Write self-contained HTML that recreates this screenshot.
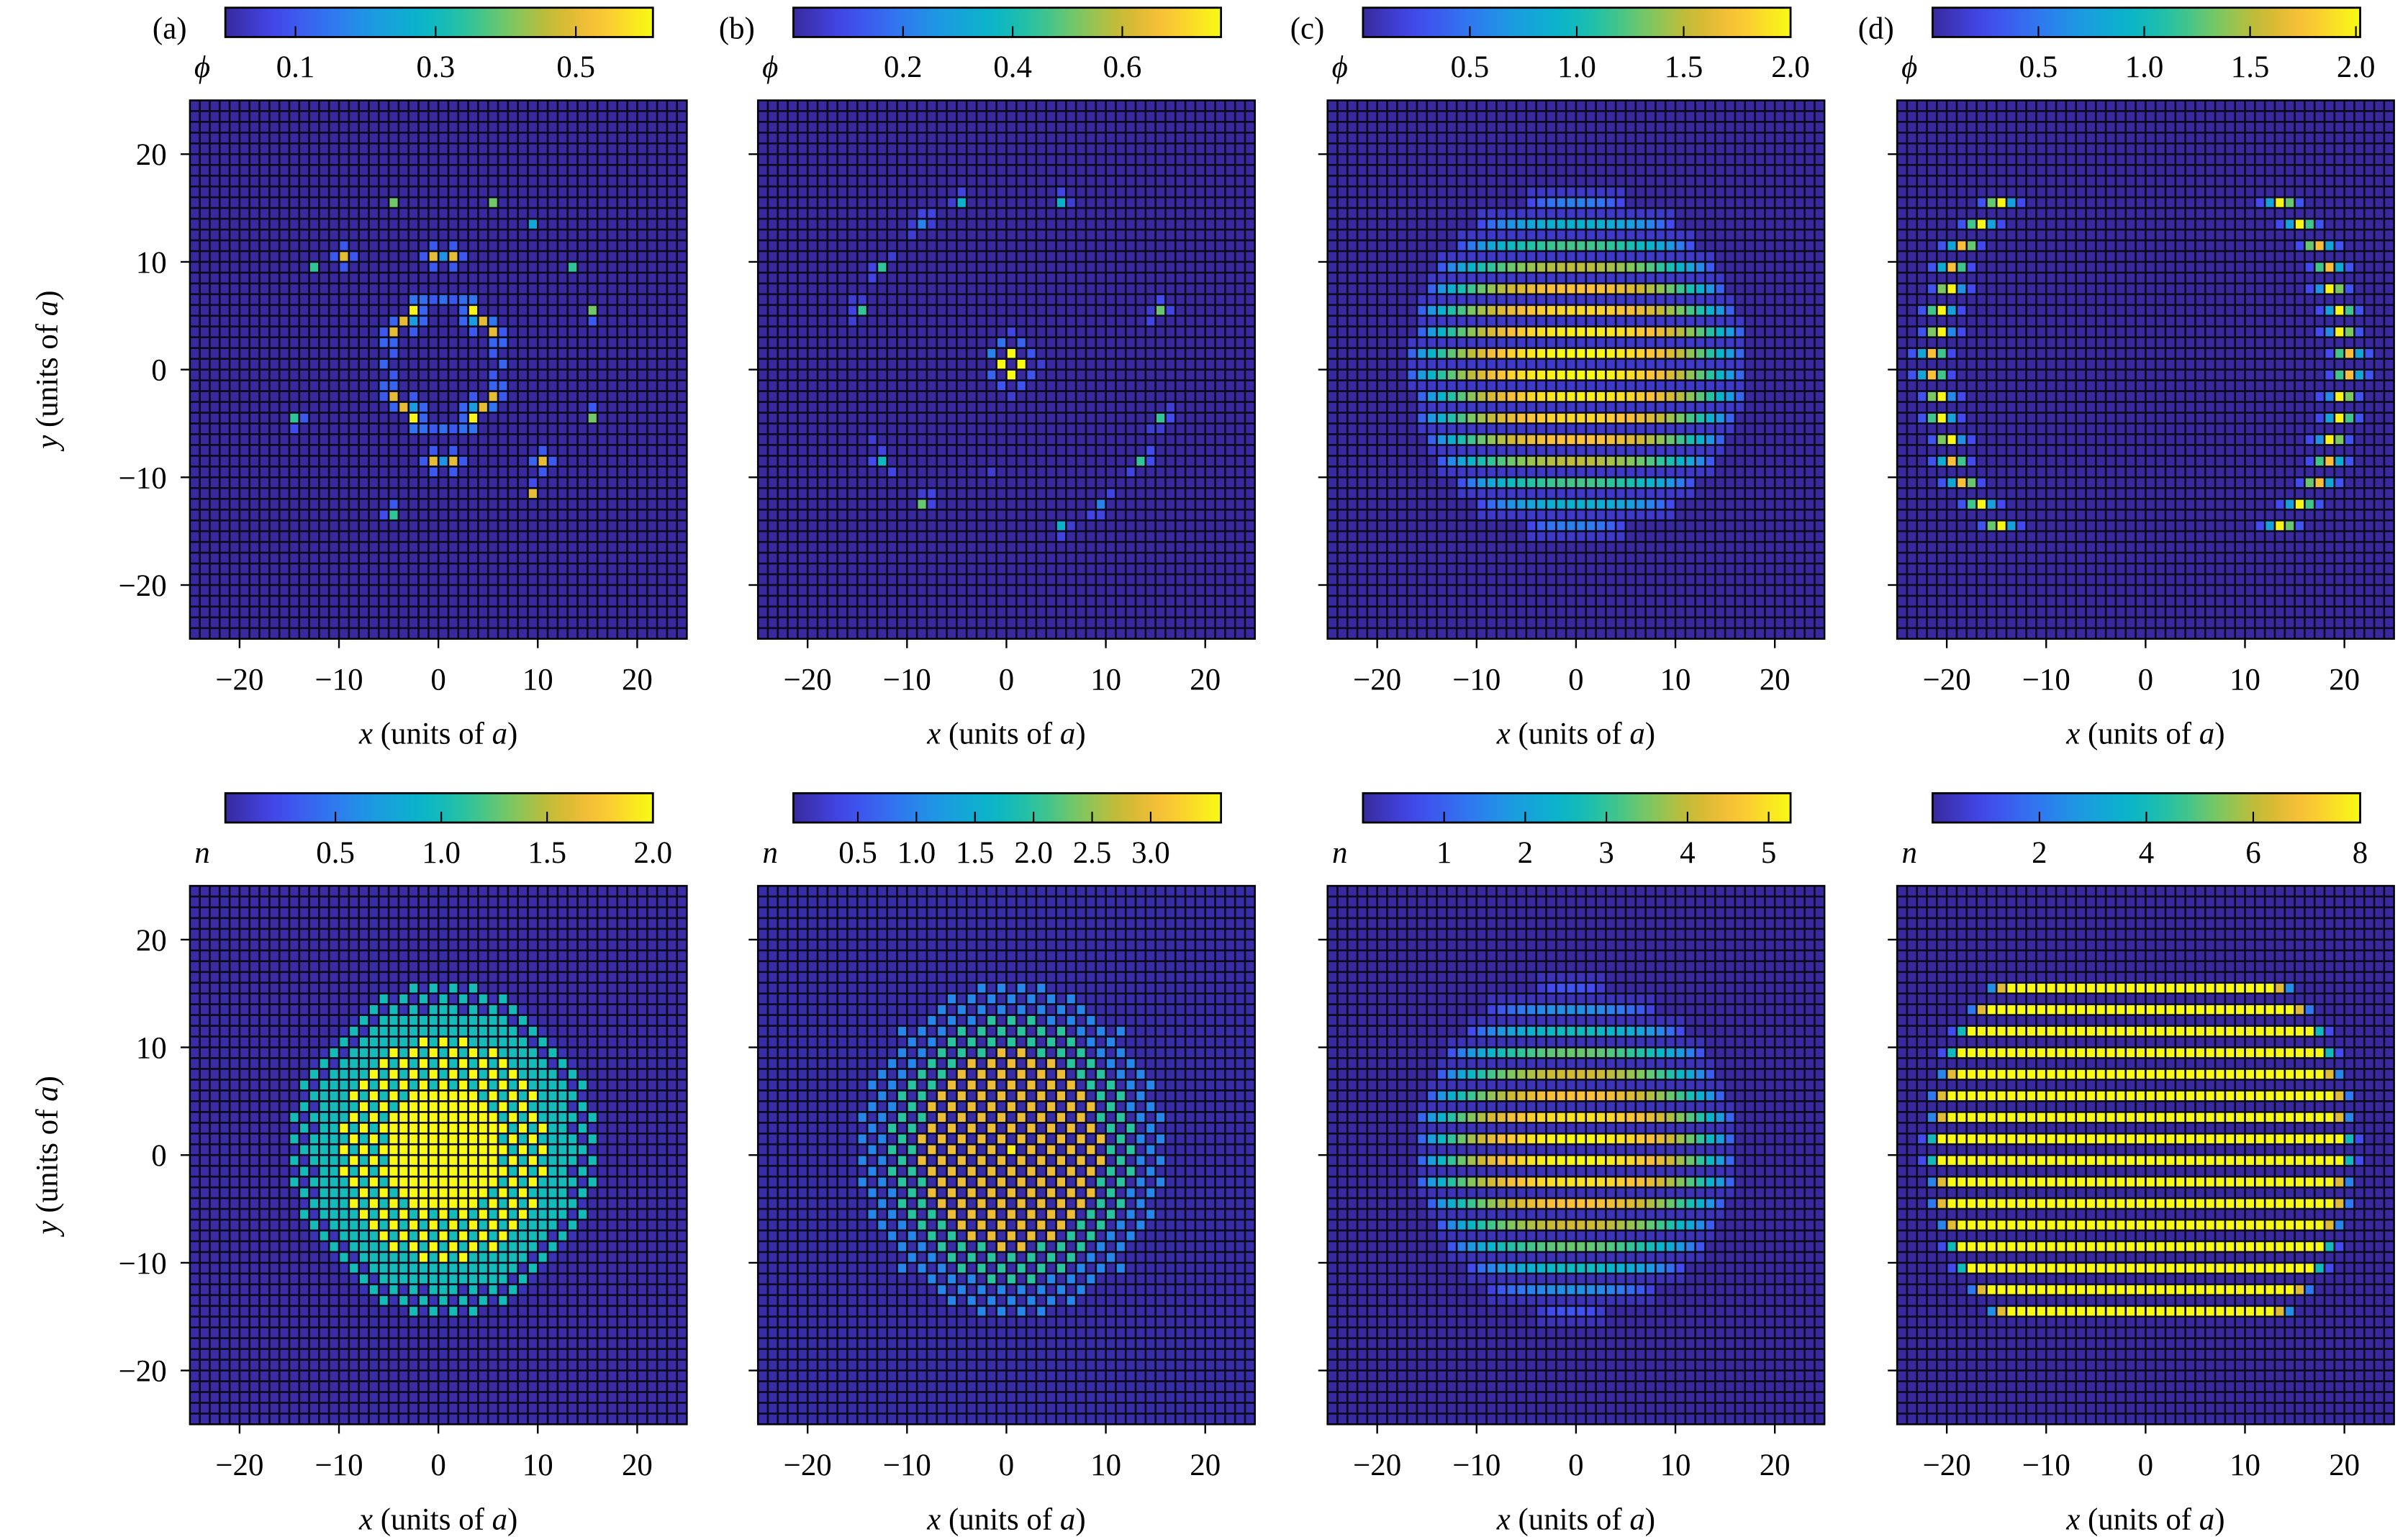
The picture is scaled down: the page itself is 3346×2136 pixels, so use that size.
<!DOCTYPE html>
<html><head><meta charset="utf-8"><style>
html,body{margin:0;padding:0;background:#fff;}
svg{display:block;}
text{font-family:"Liberation Serif",serif;fill:#000;}
</style></head><body>
<svg id="fig" xmlns="http://www.w3.org/2000/svg" width="3346" height="2136" viewBox="0 0 1560 996" preserveAspectRatio="none"></svg>
<script>
// ---------- data ----------
const panelLetters = ['(a)','(b)','(c)','(d)'];
const xTickVals = [-20,-10,0,10,20];
const yTickVals = [20,10,0,-10,-20];
const cbMin = [[0,0,0,0],[-0.02,-0.05,0,0]];
const cbMax = [[0.61,0.78,2.0,2.02],[2.0,3.6,5.27,8.0]];
const cbTicks = [[[0.1,0.3,0.5],[0.2,0.4,0.6],[0.5,1.0,1.5,2.0],[0.5,1.0,1.5,2.0]],
                 [[0.5,1.0,1.5,2.0],[0.5,1.0,1.5,2.0,2.5,3.0],[1,2,3,4,5],[2,4,6,8]]];
const cbTickLabels = [[['0.1','0.3','0.5'],['0.2','0.4','0.6'],['0.5','1.0','1.5','2.0'],['0.5','1.0','1.5','2.0']],
                 [['0.5','1.0','1.5','2.0'],['0.5','1.0','1.5','2.0','2.5','3.0'],['1','2','3','4','5'],['2','4','6','8']]];
const cbSymbol = ['\u03D5','n'];

// phi (a): [col,row,value]
const phiA = [[20,9,0.4],[30,9,0.4],[34,11,0.25],[15,14,0.5],[24,14,0.5],[25,14,0.2],[26,14,0.5],
 [15,13,0.1],[15,15,0.1],[24,13,0.1],[26,13,0.1],[24,15,0.1],[26,15,0.1],[14,14,0.1],[16,14,0.1],[23,14,0.1],[27,14,0.1],
 [12,15,0.35],[38,15,0.35],
 [22,18,0.15],[23,18,0.14],[24,18,0.1],[25,18,0.14],[26,18,0.1],[27,18,0.14],[28,18,0.15],
 [22,19,0.6],[23,19,0.12],[27,19,0.12],[28,19,0.6],[40,19,0.4],
 [20,20,0.12],[21,20,0.5],[22,20,0.22],[23,20,0.12],[27,20,0.12],[28,20,0.22],[29,20,0.5],[30,20,0.15],[40,20,0.1],
 [19,21,0.1],[20,21,0.5],[22,21,0.1],[28,21,0.1],[30,21,0.5],[31,21,0.1],
 [19,22,0.12],[20,22,0.12],[30,22,0.12],[31,22,0.12],[20,23,0.1],[30,23,0.1],[19,24,0.12],[31,24,0.12],
 [20,25,0.1],[30,25,0.1],[19,26,0.12],[20,26,0.12],[30,26,0.12],[31,26,0.12],
 [19,27,0.1],[20,27,0.5],[22,27,0.1],[28,27,0.1],[30,27,0.5],[31,27,0.1],
 [20,28,0.12],[21,28,0.5],[22,28,0.22],[23,28,0.12],[27,28,0.12],[28,28,0.22],[29,28,0.5],[30,28,0.15],[40,28,0.1],
 [22,29,0.6],[23,29,0.12],[27,29,0.12],[28,29,0.6],[10,29,0.35],[11,29,0.1],[40,29,0.4],
 [22,30,0.15],[23,30,0.14],[24,30,0.1],[25,30,0.14],[26,30,0.1],[27,30,0.14],[28,30,0.15],[10,30,0.08],
 [24,32,0.1],[26,32,0.1],[35,32,0.1],[23,33,0.1],[24,33,0.5],[25,33,0.2],[26,33,0.5],[27,33,0.1],[34,33,0.12],[35,33,0.5],[36,33,0.1],
 [24,34,0.1],[26,34,0.1],[35,34,0.1],[34,35,0.08],[34,36,0.5],[20,37,0.1],[19,38,0.08],[20,38,0.35]];

// phi (b)
const phiB = [[20,8,0.08],[20,9,0.35],[19,9,0.06],[30,8,0.08],[30,9,0.35],[31,9,0.06],
 [16,10,0.08],[17,10,0.08],[16,11,0.22],[15,11,0.06],[17,11,0.06],[15,12,0.06],
 [13,14,0.06],[11,15,0.08],[12,15,0.45],[11,16,0.08],
 [9,18,0.06],[10,18,0.06],[9,19,0.08],[10,19,0.45],[9,20,0.06],
 [40,18,0.1],[40,19,0.5],[41,19,0.08],[39,20,0.08],[39,19,0.06],
 [25,21,0.08],[24,22,0.18],[26,22,0.15],[23,23,0.22],[25,23,0.78],[27,23,0.12],[24,24,0.78],[26,24,0.78],[28,24,0.06],
 [23,25,0.15],[25,25,0.78],[27,25,0.12],[24,26,0.12],[26,26,0.12],[25,27,0.06],
 [41,28,0.06],[40,29,0.45],[41,29,0.1],[40,30,0.06],[39,30,0.06],
 [11,31,0.06],[12,32,0.08],[11,33,0.1],[12,33,0.38],[13,34,0.08],[23,34,0.06],
 [39,32,0.1],[38,33,0.45],[39,33,0.1],[37,34,0.08],
 [16,36,0.06],[17,36,0.08],[16,37,0.5],[17,37,0.08],
 [35,36,0.08],[34,37,0.22],[33,38,0.08],[34,38,0.08],[30,39,0.35],[31,39,0.06],[30,40,0.08]];

// phi (c): stripes
const phiCRows = [9,11,13,15,17,19,21,23,25,27,29,31,33,35,37,39];
const phiCLo   = [20,15,13,11,10,9,9,8,8,9,9,10,11,13,15,20];
const phiCHi   = [29,34,36,38,39,40,41,41,41,41,40,39,38,36,34,29];
const phiCPeak = [0.55,0.9,1.2,1.5,1.75,1.85,1.95,2.0,2.0,1.95,1.85,1.75,1.5,1.2,0.9,0.55];

// phi (d): two arcs
const phiDRows     = [9,11,13,15,17,19,21,23,25,27,29,31,33,35,37,39];
const phiDLeftCol  = [10,8,6,5,5,4,4,3,3,4,4,5,5,6,8,10];
const phiDRightCol = [38,40,42,43,43,44,44,45,45,44,44,43,43,42,40,38];
const phiDPeak     = [2.0,2.0,1.75,1.75,2.0,2.0,2.0,1.75,1.75,2.0,2.0,2.0,1.75,1.75,2.0,2.0];
const phiDOuter    = [1.3,1.2,0.8,0.85,1.35,1.2,1.35,0.8,0.8,1.35,1.2,1.35,0.85,0.8,1.2,1.3];
const phiDInner    = [0.75,0.75,1.3,1.2,0.65,0.75,0.6,1.2,1.2,0.6,0.75,0.65,1.2,1.3,0.75,0.75];

// n (a): disk with checker core
const nACenter = [25,24];
const nARadii  = [15.5, 13.0, 10.5, 5.5];
const nALevels = [1.0, 1.0, 2.0, 2.0];

// n (b): checker disk with bands
const nBCenter = [25,24];
const nBRadii  = [15.6, 12.6, 9.3, 1.0];
const nBLevels = [1.0, 2.0, 3.0, 3.5];

// n (c): stripes
const nCRows = [9,11,13,15,17,19,21,23,25,27,29,31,33,35,37,39];
const nCLo   = [21,16,14,12,11,10,9,9,9,9,10,11,12,14,16,21];
const nCHi   = [27,32,35,37,38,39,40,40,40,40,39,38,37,35,32,27];
const nCPeak = [0.8,1.7,2.6,3.4,4.1,4.6,5.0,5.25,5.25,5.0,4.6,4.1,3.4,2.6,1.7,0.8];

// n (d): saturated stripes
const nDRows  = [9,11,13,15,17,19,21,23,25,27,29,31,33,35,37,39];
const nDLo    = [9,7,5,4,4,3,3,2,2,3,3,4,4,5,7,9];
const nDHi    = [39,41,43,44,44,45,45,46,46,45,45,44,44,43,41,39];
const nDOuter = [2.5,2.0,1.0,1.0,2.3,2.0,2.3,1.0,1.0,2.3,2.0,2.3,1.0,1.0,2.0,2.5];
const nDInner = [6.5,6.5,4.0,4.0,6.5,6.5,6.5,4.0,4.0,6.5,6.5,6.5,4.0,4.0,6.5,6.5];
const nDFull  = [8,8,8,8,8,8,8,8,8,8,8,8,8,8,8,8];

// ---------- layout ----------
const NS='http://www.w3.org/2000/svg';
const svg=document.getElementById('fig');
const LEFTS=[123,491,860,1229], TOPS=[65,574], PW=322, PH=349, NC=50, NR=50;
const CB_TOP=[5,514], CB_H=19, CB_L=[146,514,883,1252], CB_W=277;
function mk(tag,attrs,parent){const e=document.createElementNS(NS,tag);for(const k in attrs)e.setAttribute(k,attrs[k]);(parent||svg).appendChild(e);return e;}

const STOPS=[[0,[56,42,158]],[0.12,[68,72,238]],[0.25,[48,120,240]],[0.35,[28,155,225]],[0.47,[8,182,200]],
 [0.57,[45,196,155]],[0.67,[125,200,95]],[0.77,[205,185,50]],[0.87,[252,192,58]],[1,[248,250,20]]];
function cmap(t){t=Math.max(0,Math.min(1,t));for(let i=1;i<STOPS.length;i++){if(t<=STOPS[i][0]){const a=STOPS[i-1],b=STOPS[i];const f=(t-a[0])/(b[0]-a[0]);
 const c=a[1].map((v,k)=>Math.round(v+(b[1][k]-v)*f));return 'rgb('+c.join(',')+')';}}return 'rgb(248,250,20)';}

function emptyGrid(){const g=[];for(let r=0;r<NR;r++){g.push(new Array(NC).fill(0));}return g;}
function gridFromList(list){const g=emptyGrid();list.forEach(p=>{g[p[1]][p[0]]=p[2];});return g;}
function gridStripes(rows,lo,hi,peak,between){const g=emptyGrid();rows.forEach((r,i)=>{const mid=(lo[i]+hi[i])/2,half=(hi[i]-lo[i])/2+0.6;
 for(let c=lo[i];c<=hi[i];c++){const u=(c-mid)/half;g[r][c]=peak[i]*Math.pow(Math.max(0.05,1-u*u),0.6);
  if(between){[r-1,r+1].forEach(rr=>{if(rr>=0&&rr<NR&&g[rr][c]<between)g[rr][c]=between;});}}});return g;}
function gridArcs(){const g=emptyGrid();phiDRows.forEach((r,i)=>{const L=phiDLeftCol[i],R=phiDRightCol[i];
 g[r][L]=phiDPeak[i];g[r][L-1]=phiDOuter[i];g[r][L+1]=phiDInner[i];g[r][L-2]=0.3;g[r][L+2]=0.25;
 g[r][R]=phiDPeak[i];g[r][R+1]=phiDOuter[i];g[r][R-1]=phiDInner[i];g[r][R+2]=0.3;g[r][R-2]=0.25;});return g;}
function gridNA(){const g=emptyGrid();for(let r=0;r<NR;r++)for(let c=0;c<NC;c++){const d=Math.hypot(c-nACenter[0],r-nACenter[1]);const odd=(r+c)%2===1;
 if(d<=nARadii[3])g[r][c]=nALevels[3];else if(d<=nARadii[2])g[r][c]=odd?nALevels[2]:nALevels[1];
 else if(d<=nARadii[1])g[r][c]=nALevels[1];else if(d<=nARadii[0])g[r][c]=odd?nALevels[0]:0.05;}return g;}
function gridNB(){const g=emptyGrid();for(let r=0;r<NR;r++)for(let c=0;c<NC;c++){const d=Math.hypot(c-nBCenter[0],r-nBCenter[1]);
 if((r+c)%2!==1)continue;if(d<nBRadii[3])g[r][c]=nBLevels[3];else if(d<=nBRadii[2])g[r][c]=nBLevels[2];else if(d<=nBRadii[1])g[r][c]=nBLevels[1];else if(d<=nBRadii[0])g[r][c]=nBLevels[0];}return g;}
function gridND(){const g=emptyGrid();nDRows.forEach((r,i)=>{for(let c=nDLo[i];c<=nDHi[i];c++)g[r][c]=nDFull[i];
 g[r][nDLo[i]]=nDOuter[i];g[r][nDHi[i]]=nDOuter[i];g[r][nDLo[i]+1]=nDInner[i];g[r][nDHi[i]-1]=nDInner[i];});return g;}

const grids=[[gridFromList(phiA),gridFromList(phiB),gridStripes(phiCRows,phiCLo,phiCHi,phiCPeak,0.12),gridArcs()],
             [gridNA(),gridNB(),gridStripes(nCRows,nCLo,nCHi,nCPeak,0.2),gridND()]];

const cw=PW/NC, ch=PH/NR, gap=1.25;
function xCell(px,c){return LEFTS[px]+c*cw;}
function yCell(py,r){return TOPS[py]+r*ch;}
function xData(px,v){return LEFTS[px]+(v+25)*cw;}
function yData(py,v){return TOPS[py]+(25-v)*ch;}

// gradient
const defs=mk('defs',{});
const lg=mk('linearGradient',{id:'parula',x1:'0',y1:'0',x2:'1',y2:'0'},defs);
for(let i=0;i<=20;i++){mk('stop',{offset:(i/20).toFixed(2),'stop-color':cmap(i/20)},lg);}

for(let py=0;py<2;py++){for(let px=0;px<4;px++){
  const g=grids[py][px], lo=cbMin[py][px], hi=cbMax[py][px];
  const grp=mk('g',{});
  
  
  const bg=mk('rect',{x:LEFTS[px],y:TOPS[py],width:PW,height:PH,fill:'#0b0a1e'},grp);
  
  
  for(let r=0;r<NR;r++)for(let c=0;c<NC;c++){
    const t=(g[r][c]-lo)/(hi-lo);
    const el=mk('rect',{x:(xCell(px,c)+gap/2).toFixed(2),y:(yCell(py,r)+gap/2).toFixed(2),width:(cw-gap).toFixed(2),height:(ch-gap).toFixed(2),fill:cmap(t)},grp);
    
    
  }
  const fr=mk('rect',{x:LEFTS[px],y:TOPS[py],width:PW,height:PH,fill:'none',stroke:'#000','stroke-width':1.1});
  
  
  // x ticks
  xTickVals.forEach(v=>{const x=xData(px,v);
    const tk=mk('line',{x1:x,x2:x,y1:TOPS[py]+PH,y2:TOPS[py]+PH+6,stroke:'#000','stroke-width':1.1});
    
    
    const tl=mk('text',{x:x,y:TOPS[py]+PH+33,'font-size':20,'text-anchor':'middle'});
    tl.textContent=(v<0?'\u2212':'')+Math.abs(v);
    
    
  });
  yTickVals.forEach(v=>{const y=yData(py,v);
    const tk=mk('line',{x1:LEFTS[px]-6,x2:LEFTS[px],y1:y,y2:y,stroke:'#000','stroke-width':1.1});
    
    
    if(px===0){const tl=mk('text',{x:LEFTS[px]-15,y:y+7,'font-size':20,'text-anchor':'end'});
      tl.textContent=(v<0?'\u2212':'')+Math.abs(v);
      
      }
  });
  // x label
  const xl=mk('text',{x:LEFTS[px]+PW/2,y:TOPS[py]+PH+68,'font-size':20,'text-anchor':'middle'});
  xl.innerHTML='<tspan font-style="italic">x</tspan> (units of <tspan font-style="italic">a</tspan>)';
  
  
  if(px===0){const cy=TOPS[py]+PH/2;
    const yl=mk('text',{x:0,y:0,'font-size':20,'text-anchor':'middle',transform:'translate(37,'+cy+') rotate(-90)'});
    yl.innerHTML='<tspan font-style="italic">y</tspan> (units of <tspan font-style="italic">a</tspan>)';
    
    }
  // colorbar
  const cb=mk('rect',{x:CB_L[px],y:CB_TOP[py],width:CB_W,height:CB_H,fill:'url(#parula)',stroke:'#000','stroke-width':1.3});
  
  
  cbTicks[py][px].forEach((v,i)=>{const x=CB_L[px]+(v-lo)/(hi-lo)*CB_W;
    const tk=mk('line',{x1:x,x2:x,y1:CB_TOP[py]+CB_H,y2:CB_TOP[py]+CB_H-7,stroke:'#000','stroke-width':1});
    
    
    const tl=mk('text',{x:x,y:CB_TOP[py]+CB_H+26,'font-size':20,'text-anchor':'middle'});
    tl.textContent=cbTickLabels[py][px][i];
    
    
  });
  const sym=mk('text',{x:CB_L[px]-15,y:CB_TOP[py]+CB_H+26,'font-size':20,'font-style':'italic','text-anchor':'middle'});
  sym.textContent=cbSymbol[py];
  
  
  if(py===0){const pl=mk('text',{x:CB_L[px]-25,y:25,'font-size':20,'text-anchor':'end'});
    pl.textContent=panelLetters[px];
    
    }
}}
</script>
</body></html>
